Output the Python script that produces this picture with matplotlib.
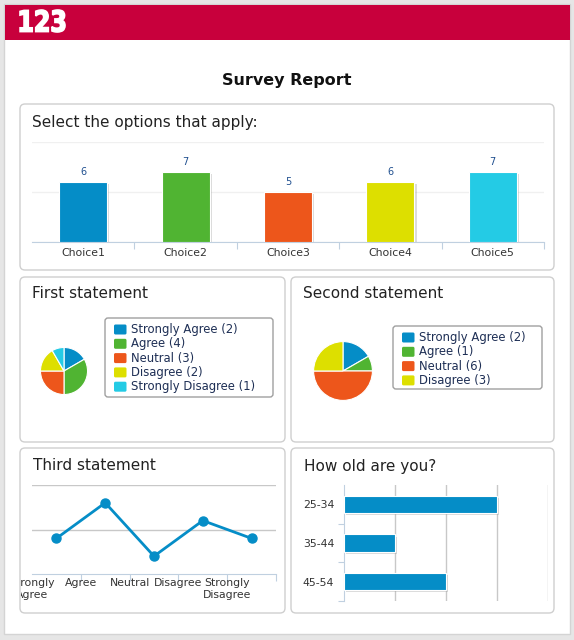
import numpy as np
import matplotlib
matplotlib.use('Agg')
import matplotlib.pyplot as plt
from matplotlib.patches import FancyBboxPatch, Rectangle, PathPatch
from matplotlib.textpath import TextPath
from matplotlib.font_manager import FontProperties
from matplotlib.transforms import Affine2D, Bbox, TransformedBbox
import matplotlib.patheffects as pe

# ---- data ----
choices = ['Choice1', 'Choice2', 'Choice3', 'Choice4', 'Choice5']
choice_counts = [6, 7, 5, 6, 7]

first_labels = ['Strongly Agree', 'Agree', 'Neutral', 'Disagree', 'Strongly Disagree']
first_counts = [2, 4, 3, 2, 1]

second_labels = ['Strongly Agree', 'Agree', 'Neutral', 'Disagree']
second_counts = [2, 1, 6, 3]

third_labels = ['Strongly\nAgree', 'Agree', 'Neutral', 'Disagree', 'Strongly\nDisagree']
third_counts = [2, 4, 1, 3, 2]

age_groups = ['25-34', '35-44', '45-54']
age_counts = [3, 1, 2]

colors = ['#058DC7', '#50B432', '#ED561B', '#DDDF00', '#24CBE5']
axis_col = '#C0D0E0'
grid_col = '#C8C8C8'
title_col = '#222222'
label_col = '#333333'
legend_col = '#1e2f55'

W, H = 574, 640
fig = plt.figure(figsize=(W / 100, H / 100), dpi=100, facecolor='#e6e6e6')


def box(x0, y0, x1, y1):
    return [x0 / W, 1 - y1 / H, (x1 - x0) / W, (y1 - y0) / H]


# background in pixel coordinates
bg = fig.add_axes([0, 0, 1, 1], zorder=0)
bg.set_xlim(0, W)
bg.set_ylim(H, 0)
bg.axis('off')

bg.add_patch(Rectangle((4, 4), 566, 630, fc='white', ec='#d4d4d4', lw=1))
bg.add_patch(Rectangle((4.5, 4.5), 565, 35, fc='#c8003c', ec='none'))

# logo
fp = FontProperties(family='DejaVu Sans', weight='bold')
tp = TextPath((0, 0), '123', size=1, prop=fp)
ext = tp.get_extents()
sx = 45 / ext.width
sy = 22 / ext.height
tr = Affine2D().translate(-ext.x0, -ext.y0).scale(sx, -sy).translate(20, 32) + bg.transData
logo = PathPatch(tp, fc='white', ec='white', lw=1.2, transform=tr)
bg.add_patch(logo)

bg.text(287, 80, 'Survey Report', ha='center', va='center', fontsize=11.5,
        fontweight='bold', color='#111111')

panels = {
    'p1': (20, 104, 554, 270),
    'p2': (20, 277, 285, 442),
    'p3': (291, 277, 554, 442),
    'p4': (20, 448, 285, 613),
    'p5': (291, 448, 554, 613),
}
for k, (x0, y0, x1, y1) in panels.items():
    p = FancyBboxPatch((x0, y0), x1 - x0, y1 - y0, boxstyle='round,pad=0,rounding_size=5',
                       fc='white', ec='#cfcfcf', lw=1)
    bg.add_patch(p)

bg.text(32, 123, 'Select the options that apply:', va='center', fontsize=11, color=title_col)
bg.text(32, 294, 'First statement', va='center', fontsize=11, color=title_col)
bg.text(303, 294, 'Second statement', va='center', fontsize=11, color=title_col)
bg.text(33, 466, 'Third statement', va='center', fontsize=11, color=title_col)
bg.text(304, 466, 'How old are you?', va='center', fontsize=11, color=title_col)


def style_axes(ax):
    ax.set_facecolor('none')
    for s in ax.spines.values():
        s.set_visible(False)


# ---- column chart ----
ax1 = fig.add_axes(box(32, 142, 544, 242), zorder=2)
style_axes(ax1)
x = np.arange(len(choices))
bars = ax1.bar(x, choice_counts, width=0.47, color=colors, edgecolor='white', lw=0.8, zorder=3)
for b in bars:
    b.set_path_effects([pe.SimplePatchShadow(offset=(1.5, -1.5), shadow_rgbFace='#999999', alpha=0.35),
                        pe.Normal()])
for xi, v in zip(x, choice_counts):
    ax1.annotate(str(v), (xi, v), xytext=(0, 3.5), textcoords='offset points',
                 ha='center', va='bottom', fontsize=7, color='#1f4f8f')
ax1.set_xlim(-0.5, 4.5)
ax1.set_ylim(0, 10)
ax1.set_yticks([0, 5, 10])
ax1.set_yticklabels([])
ax1.tick_params(axis='y', length=0)
ax1.grid(axis='y', color='#f0f0f0', lw=1)
ax1.spines['bottom'].set_visible(True)
ax1.spines['bottom'].set_color(axis_col)
ax1.set_xticks(np.arange(0.5, 5, 1))
ax1.set_xticklabels([])
ax1.set_xticks(x, minor=True)
ax1.set_xticklabels(choices, minor=True, fontsize=7.8, color=label_col)
ax1.tick_params(axis='x', which='major', length=5, color=axis_col, direction='out')
ax1.tick_params(axis='x', which='minor', length=0, pad=4)
ax1.set_axisbelow(True)

# ---- pies ----
def draw_pie(rect, counts, n):
    ax = fig.add_axes(rect, zorder=2)
    ax.pie(counts, colors=colors[:n], startangle=90, counterclock=False,
           wedgeprops=dict(edgecolor='white', linewidth=0.8))
    ax.set_xlim(-1.02, 1.02)
    ax.set_ylim(-1.02, 1.02)
    ax.set_aspect('auto')
    return ax


draw_pie(box(40, 347, 88, 395), first_counts, len(first_counts))
draw_pie(box(313, 341, 373, 401), second_counts, len(second_counts))


def draw_legend(x0, y0, x1, y1, labels, counts, first_y):
    bg.add_patch(FancyBboxPatch((x0, y0), x1 - x0, y1 - y0, boxstyle='round,pad=0,rounding_size=3',
                                fc='white', ec='#a0a0a0', lw=1, zorder=3))
    for i, (lab, c) in enumerate(zip(labels, counts)):
        yy = first_y + i * 14.3
        bg.add_patch(FancyBboxPatch((x0 + 9, yy - 5), 12.5, 10, boxstyle='round,pad=0,rounding_size=1.5',
                                    fc=colors[i], ec='none', zorder=4))
        bg.text(x0 + 26, yy, f'{lab} ({c})', va='center', fontsize=8.4, color=legend_col, zorder=4)


draw_legend(105, 318, 273, 397, first_labels, first_counts, 329.5)
draw_legend(393, 326, 542, 389, second_labels, second_counts, 337.5)

# ---- line chart ----
ax4 = fig.add_axes(box(32, 485, 276, 574), zorder=2)
style_axes(ax4)
xl = np.arange(len(third_counts))
ax4.plot(xl, third_counts, color='#058DC7', lw=2, marker='o', ms=6.5, zorder=3,
         clip_on=False)
ax4.set_xlim(-0.5, 4.5)
ax4.set_ylim(0, 5)
ax4.set_yticks([2.5, 5])
ax4.set_yticklabels([])
ax4.tick_params(axis='y', length=0)
ax4.grid(axis='y', color=grid_col, lw=1)
ax4.spines['bottom'].set_visible(True)
ax4.spines['bottom'].set_color(axis_col)
ax4.set_xticks(np.arange(0.5, 5, 1))
ax4.set_xticklabels([])
ax4.tick_params(axis='x', length=5, color=axis_col, direction='out')
tr4 = ax4.get_xaxis_transform()
# labels are cut at the panel border, like the first one in the page
px0, py0, px1, py1 = panels['p4']
clip4 = TransformedBbox(Bbox.from_extents(px0 / W + 0.002, 1 - py1 / H, px1 / W, 1 - py0 / H),
                        fig.transFigure)
for xi, lab in zip(np.arange(-0.5, 4, 1), third_labels):
    t = ax4.text(xi, -0.04, lab, transform=tr4, ha='center', va='top', fontsize=7.8,
                 color=label_col, linespacing=1.25)
    t.set_clip_on(True)
    t.set_clip_box(clip4)

# ---- horizontal bar chart ----
ax5 = fig.add_axes(box(344, 485, 548, 601), zorder=2)
style_axes(ax5)
yb = np.arange(len(age_groups))
hb = ax5.barh(yb, age_counts, height=0.44, color='#058DC7', edgecolor='white', lw=0.8, zorder=3)
for b in hb:
    b.set_path_effects([pe.SimplePatchShadow(offset=(1.5, -1.5), shadow_rgbFace='#999999', alpha=0.35),
                        pe.Normal()])
ax5.set_xlim(0, 4)
ax5.set_ylim(2.5, -0.5)
ax5.set_xticks([1, 2, 3, 4])
ax5.set_xticklabels([])
ax5.tick_params(axis='x', length=0)
ax5.grid(axis='x', color=grid_col, lw=1)
ax5.spines['left'].set_visible(True)
ax5.spines['left'].set_color(axis_col)
ax5.set_yticks(np.arange(0.5, 3, 1))
ax5.set_yticklabels([])
ax5.tick_params(axis='y', which='major', length=4, color=axis_col, direction='out')
ax5.set_yticks(yb, minor=True)
ax5.set_yticklabels(age_groups, minor=True, fontsize=7.8, color=label_col)
ax5.tick_params(axis='y', which='minor', length=0, pad=7)
ax5.set_axisbelow(True)

fig.savefig('out.png', dpi=100, facecolor=fig.get_facecolor())
